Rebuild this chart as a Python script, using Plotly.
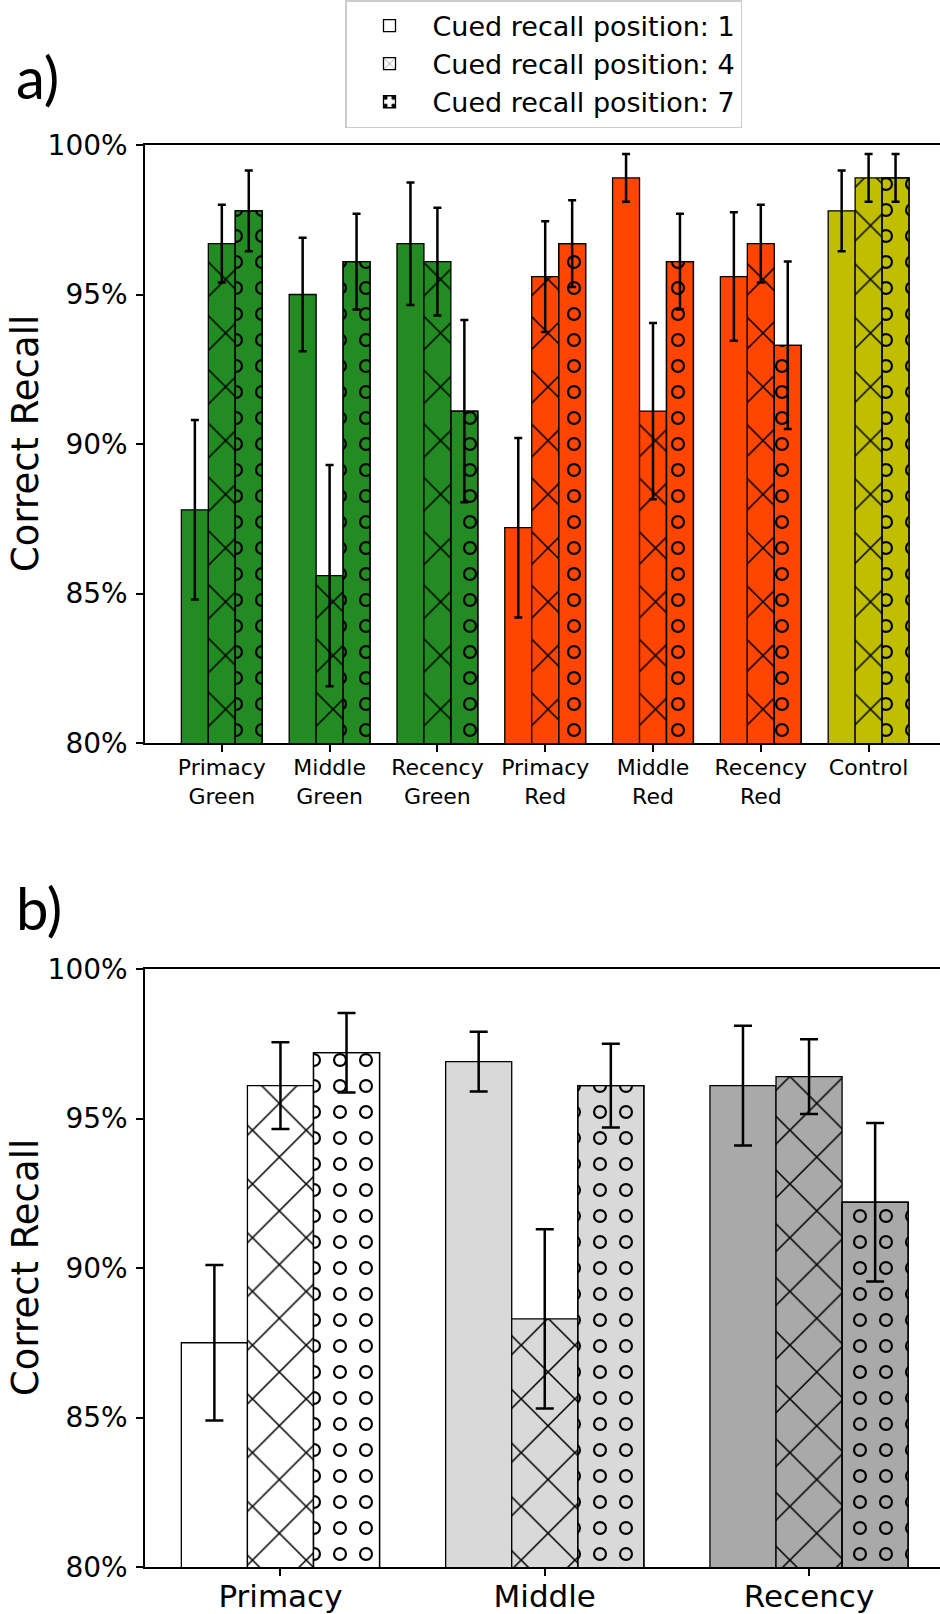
import plotly.graph_objects as go

# ---------------- data ----------------
top_categories = ["Primacy Green", "Middle Green", "Recency Green",
                  "Primacy Red", "Middle Red", "Recency Red", "Control"]
bottom_categories = ["Primacy", "Middle", "Recency"]
series_names = ["Cued recall position: 1", "Cued recall position: 4", "Cued recall position: 7"]

top_pos1 = [87.8, 95.0, 96.7, 87.2, 98.9, 95.6, 97.8]
top_pos1_err = [3.0, 1.9, 2.05, 3.0, 0.8, 2.15, 1.35]
top_pos4 = [96.7, 85.6, 96.1, 95.6, 91.1, 96.7, 98.9]
top_pos4_err = [1.3, 3.7, 1.8, 1.85, 2.95, 1.3, 0.8]
top_pos7 = [97.8, 96.1, 91.1, 96.7, 96.1, 93.3, 98.9]
top_pos7_err = [1.35, 1.6, 3.05, 1.45, 1.6, 2.8, 0.8]

bot_pos1 = [87.5, 96.9, 96.1]
bot_pos1_err = [2.6, 1.0, 2.0]
bot_pos4 = [96.1, 88.3, 96.4]
bot_pos4_err = [1.45, 3.0, 1.25]
bot_pos7 = [97.2, 96.1, 92.2]
bot_pos7_err = [1.33, 1.4, 2.65]

y_ticks = [80, 85, 90, 95, 100]
y_tick_labels = ["80%", "85%", "90%", "95%", "100%"]

# ---------------- style ----------------
top_colors = ["#228b22"] * 3 + ["#ff4500"] * 3 + ["#bfbf00"]
bottom_colors = ["#ffffff", "#d9d9d9", "#a9a9a9"]
FONT = "DejaVu Sans"
BAR_W = 0.25
OFFSETS = [-0.375, -0.125, 0.125]
W, H = 940, 1614
L = 145

fig = go.Figure()


def add_bar(x, y, e, color, k, xa, ya, cap, show_legend):
    err = dict(type="data", array=[e], visible=True, color="black", thickness=2.5, width=cap)
    common = dict(x=[x], y=[y], width=BAR_W, offset=OFFSETS[k], xaxis=xa, yaxis=ya,
                  hoverinfo="skip", name=series_names[k], legendgroup="g%d" % k)
    line = dict(color="black", width=1.3)
    if k == 0:
        fig.add_trace(go.Bar(**common, marker=dict(color=color, line=line),
                             error_y=err, showlegend=show_legend))
    elif k == 1:
        fig.add_trace(go.Bar(**common, marker=dict(
            color=color, line=line,
            pattern=dict(shape="x", fgcolor="black", fgopacity=1,
                         size=38, solidity=0.08, fillmode="overlay")),
            error_y=err, showlegend=show_legend))
    else:
        # black dots on the bar colour
        fig.add_trace(go.Bar(**common, marker=dict(
            color=color, line=line,
            pattern=dict(shape=".", fgcolor="black", fgopacity=1,
                         size=26, solidity=0.23, fillmode="overlay")),
            showlegend=show_legend))
        # bar-coloured centres turn the dots into rings
        fig.add_trace(go.Bar(**common, marker=dict(
            color=color, line=line,
            pattern=dict(shape=".", fgcolor=color, fgopacity=1,
                         size=26, solidity=0.11, fillmode="replace")),
            error_y=err, showlegend=False))


top_series = [(top_pos1, top_pos1_err), (top_pos4, top_pos4_err), (top_pos7, top_pos7_err)]
bot_series = [(bot_pos1, bot_pos1_err), (bot_pos4, bot_pos4_err), (bot_pos7, bot_pos7_err)]
tx = list(range(len(top_categories)))
bx = list(range(len(bottom_categories)))
for k, (vals, errs) in enumerate(top_series):
    for i in tx:
        add_bar(i, vals[i], errs[i], top_colors[i], k, "x", "y", 4, False)
for k, (vals, errs) in enumerate(bot_series):
    for i in bx:
        add_bar(i, vals[i], errs[i], bottom_colors[i], k, "x2", "y2", 9, i == 0)

axis_common = dict(showline=True, linecolor="black", linewidth=1.5, ticks="outside",
                   ticklen=7, tickwidth=1.5, tickcolor="black", showgrid=False,
                   zeroline=False, automargin=False)

top_dom = [1 - 743 / H, 1 - 145 / H]
bot_dom = [1 - 1567 / H, 1 - 969 / H]
plot_w = W - L

fig.update_layout(
    width=W, height=H,
    margin=dict(l=L, r=0, t=0, b=0),
    paper_bgcolor="white", plot_bgcolor="white",
    barmode="overlay",
    font=dict(family=FONT, color="black"),
    xaxis=dict(**axis_common, domain=[0, 1], anchor="y", mirror=True,
               range=[-0.7125, -0.7125 + plot_w / 107.8],
               tickvals=tx, ticktext=[c.replace(" ", "<br>") for c in top_categories],
               tickfont=dict(size=22, family=FONT), ticklabelstandoff=-3),
    yaxis=dict(**axis_common, domain=top_dom, anchor="x", range=[80, 100],
               tickvals=y_ticks, ticktext=y_tick_labels, tickfont=dict(size=28, family=FONT),
               ticklabelstandoff=3),
    xaxis2=dict(**axis_common, domain=[0, 1], anchor="y2", mirror=True,
                range=[-0.5125, -0.5125 + plot_w / 264.3],
                tickvals=bx, ticktext=bottom_categories, tickfont=dict(size=31, family=FONT),
                ticklabelstandoff=-6),
    yaxis2=dict(**axis_common, domain=bot_dom, anchor="x2", range=[80, 100],
                tickvals=y_ticks, ticktext=y_tick_labels, tickfont=dict(size=28, family=FONT),
                ticklabelstandoff=3),
    legend=dict(x=(345 - L) / plot_w, y=1.0, xanchor="left", yanchor="top",
                bgcolor="white", bordercolor="#cccccc", borderwidth=1.5,
                font=dict(size=27, family=FONT), itemwidth=76, tracegroupgap=7,
                traceorder="normal"),
    annotations=[
        dict(text="Correct Recall", textangle=-90, xref="paper", yref="paper",
             x=(25 - L) / plot_w, y=1 - 444 / H, xanchor="center", yanchor="middle",
             showarrow=False, font=dict(size=37, family=FONT)),
        dict(text="Correct Recall", textangle=-90, xref="paper", yref="paper",
             x=(25 - L) / plot_w, y=1 - 1268 / H, xanchor="center", yanchor="middle",
             showarrow=False, font=dict(size=37, family=FONT)),
        dict(text="a)", xref="paper", yref="paper", x=(14 - L) / plot_w, y=1 - 76 / H,
             xanchor="left", yanchor="middle", showarrow=False,
             font=dict(size=58, family="Lato")),
        dict(text="b)", xref="paper", yref="paper", x=(14 - L) / plot_w, y=1 - 908 / H,
             xanchor="left", yanchor="middle", showarrow=False,
             font=dict(size=58, family="Lato")),
    ],
)

fig.write_html("out.html", config={"displayModeBar": False},
               post_script="document.body.style.margin='0px';")
